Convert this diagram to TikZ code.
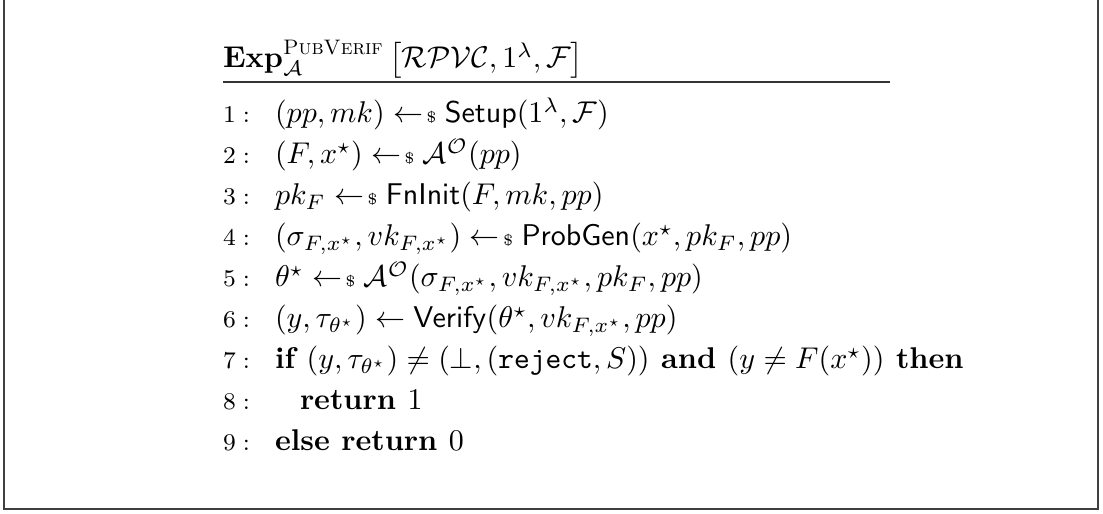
\documentclass[tikz,border=0pt]{standalone}
\usepackage{amsmath,amssymb}
% sampling arrow
\newcommand{\smpl}{\mathrel{\leftarrow\!{\scriptscriptstyle\$}}}
\newcommand{\algo}[1]{\mathsf{#1}}
\begin{document}
\begin{tikzpicture}[x=0.3333pt,y=-0.3333pt,
  code/.style={anchor=base west, inner sep=0pt, outer sep=0pt},
  lnum/.style={anchor=base west, inner sep=0pt, outer sep=0pt, font=\footnotesize},
  frame/.style={line width=0.6pt, black!75},
  rule/.style={line width=0.45pt, black!80}]
\useasboundingbox (0,0) rectangle (1103,514);
\draw[frame] (4,-10) rectangle (1098,509);

% header and rule
\node[code] (hdr) at (223,68)
  {$\mathbf{Exp}^{\textsc{PubVerif}}_{\mathcal{A}}\left[\mathcal{RPVC}, 1^{\lambda}, \mathcal{F}\right]$};
\coordinate (rl) at (223,82);
\coordinate (rr) at (890,82);
\draw[rule] (rl) -- (rr);

% line numbers
\foreach \i in {1,...,9}{
  \node[lnum] (n\i) at (223,{123+(\i-1)*41}) {$\i:$};
}

% statements
\node[code] (s1) at (275,123) {$(pp, mk) \smpl \algo{Setup}(1^{\lambda}, \mathcal{F})$};
\node[code] (s2) at (275,164) {$(F, x^{\star}) \smpl \mathcal{A}^{\mathcal{O}}(pp)$};
\node[code] (s3) at (275,205) {$pk_F \smpl \algo{FnInit}(F, mk, pp)$};
\node[code] (s4) at (275,246) {$(\sigma_{F,x^{\star}}, vk_{F,x^{\star}}) \smpl \algo{ProbGen}(x^{\star}, pk_F, pp)$};
\node[code] (s5) at (275,287) {$\theta^{\star} \smpl \mathcal{A}^{\mathcal{O}}(\sigma_{F,x^{\star}}, vk_{F,x^{\star}}, pk_F, pp)$};
\node[code] (s6) at (275,328) {$(y, \tau_{\theta^{\star}}) \leftarrow \algo{Verify}(\theta^{\star}, vk_{F,x^{\star}}, pp)$};
\node[code] (s7) at (275,369) {$\textbf{if } (y, \tau_{\theta^{\star}}) \neq (\bot, (\texttt{reject}, S)) \textbf{ and } (y \neq F(x^{\star})) \textbf{ then}$};
\node[code] (s8) at (300,410) {$\textbf{return } 1$};
\node[code] (s9) at (275,451) {$\textbf{else return } 0$};
\end{tikzpicture}
\end{document}
